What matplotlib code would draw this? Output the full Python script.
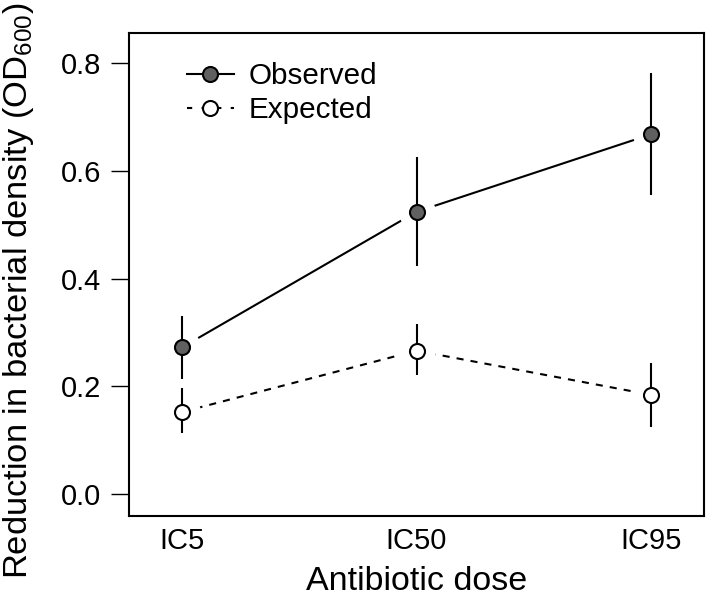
import matplotlib
matplotlib.use("Agg")
import matplotlib.pyplot as plt
from matplotlib.lines import Line2D
import numpy as np

plt.rcParams["font.family"] = ["Liberation Sans", "DejaVu Sans"]
plt.rcParams["mathtext.fontset"] = "custom"
plt.rcParams["mathtext.rm"] = "Liberation Sans"

# values
doses = ["IC5", "IC50", "IC95"]
observed = [0.272, 0.524, 0.668]
observed_lo = [0.213, 0.423, 0.555]
observed_hi = [0.330, 0.625, 0.781]
expected = [0.152, 0.266, 0.184]
expected_lo = [0.113, 0.221, 0.125]
expected_hi = [0.197, 0.316, 0.244]

LW = 1.5
MS = 10.8
HALO = 26.5
DASH = (3.4, 3.4)
OBS_FILL = "#606060"

fig = plt.figure(figsize=(7.09, 6.06), dpi=100)
ax = fig.add_axes([0.182, 0.1485, 0.811, 0.797])

x = np.arange(1, len(doses) + 1)

# connecting lines, broken near each point like R's type="b"
ax.plot(x, observed, color="black", lw=LW, zorder=1)
ax.plot(x, expected, color="black", lw=LW, linestyle=(0, DASH), zorder=1)
ax.plot(x, observed, linestyle="none", marker="o", ms=HALO, mfc="white", mec="none", zorder=2)
ax.plot(x, expected, linestyle="none", marker="o", ms=HALO, mfc="white", mec="none", zorder=2)

ax.vlines(x, observed_lo, observed_hi, color="black", lw=LW, zorder=3)
ax.vlines(x, expected_lo, expected_hi, color="black", lw=LW, zorder=3)

ax.plot(x, observed, linestyle="none", marker="o", ms=MS, mfc=OBS_FILL, mec="black", mew=LW, zorder=4)
ax.plot(x, expected, linestyle="none", marker="o", ms=MS, mfc="white", mec="black", mew=LW, zorder=4)

ax.set_xlim(0.775, 3.225)
ax.set_ylim(-0.041, 0.856)
ax.set_xticks(x)
ax.set_xticklabels(doses)
ax.set_yticks([0.0, 0.2, 0.4, 0.6, 0.8])
ax.set_yticklabels(["0.0", "0.2", "0.4", "0.6", "0.8"])
ax.tick_params(axis="y", length=13, width=1.0, pad=7, labelsize=21, direction="out")
ax.tick_params(axis="x", length=0, pad=8, labelsize=21)
for spine in ax.spines.values():
    spine.set_linewidth(1.5)

ax.set_xlabel("Antibiotic dose", fontsize=24.5, labelpad=8)
ax.set_ylabel("Reduction in bacterial density (OD$_{600}$)", fontsize=24.8, va="center")
ax.yaxis.set_label_coords(-0.193, 0.466)

handles = [
    Line2D([], [], color="black", lw=LW, marker="o", ms=MS, mfc=OBS_FILL, mec="black", mew=LW),
    Line2D([], [], color="black", lw=LW, linestyle=(0, (2.5, 4.5)), marker="o", ms=MS, mfc="white", mec="black", mew=LW),
]
ax.legend(handles, ["Observed", "Expected"], loc="upper left", bbox_to_anchor=(0.1, 0.94),
          frameon=False, fontsize=21.3, handlelength=1.6, handletextpad=0.5,
          labelspacing=0.2, borderpad=0, borderaxespad=0)

fig.savefig("out.png", dpi=100)
